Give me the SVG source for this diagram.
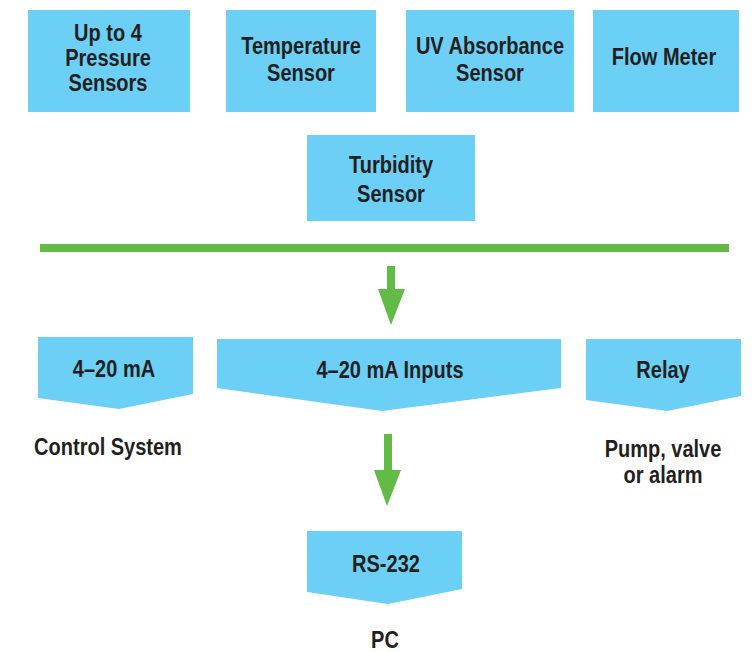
<svg xmlns="http://www.w3.org/2000/svg" width="752" height="652" viewBox="0 0 752 652">
<style>
.box{fill:#6ccff6}
.t{font-family:"Liberation Sans",Arial,sans-serif;font-weight:bold;font-size:23px;fill:#231f20;text-anchor:middle}
.g{fill:#62bb46}
</style>
<rect width="752" height="652" fill="#ffffff"/>
<g id="pressure"><rect class="box" x="28" y="10" width="162" height="102"/>
<text class="t" transform="translate(108 41) scale(0.87 1)">Up to 4</text><text class="t" transform="translate(108 66) scale(0.87 1)">Pressure</text><text class="t" transform="translate(108 91) scale(0.87 1)">Sensors</text></g>
<g id="temperature"><rect class="box" x="226" y="10" width="150" height="102"/>
<text class="t" transform="translate(301 54) scale(0.87 1)">Temperature</text><text class="t" transform="translate(301 81) scale(0.87 1)">Sensor</text></g>
<g id="uv"><rect class="box" x="406" y="10" width="168" height="102"/>
<text class="t" transform="translate(490 54) scale(0.87 1)">UV Absorbance</text><text class="t" transform="translate(490 81) scale(0.87 1)">Sensor</text></g>
<g id="flow"><rect class="box" x="593" y="10" width="146" height="102"/>
<text class="t" transform="translate(664 65) scale(0.87 1)">Flow Meter</text></g>
<g id="turbidity"><rect class="box" x="307" y="135" width="168" height="86"/>
<text class="t" transform="translate(391 173) scale(0.87 1)">Turbidity</text><text class="t" transform="translate(391 202) scale(0.87 1)">Sensor</text></g>
<g id="connectors">
<rect class="g" x="40" y="244" width="689" height="8"/>
<polygon class="g" points="387,266 395,266 395,289 405,289 391,325 378,289 387,289"/>
<polygon class="g" points="384,434 392,434 392,470 401,470 387,506 374,470 384,470"/>
</g>
<g id="ma-out"><polygon class="box" points="38,337 193,337 193,394 119,409 38,398"/>
<text class="t" transform="translate(114 377) scale(0.87 1)">4–20 mA</text></g>
<g id="ma-inputs"><polygon class="box" points="217,339 561,339 561,388 382,411 217,388"/>
<text class="t" transform="translate(390 378) scale(0.87 1)">4–20 mA Inputs</text></g>
<g id="relay"><polygon class="box" points="586,339 741,339 741,396 667,411 586,400"/>
<text class="t" transform="translate(663 378) scale(0.87 1)">Relay</text></g>
<g id="control-system"><text class="t" transform="translate(108 455) scale(0.87 1)">Control System</text></g>
<g id="pump"><text class="t" transform="translate(663 457) scale(0.87 1)">Pump, valve</text><text class="t" transform="translate(663 483) scale(0.87 1)">or alarm</text></g>
<g id="rs232"><polygon class="box" points="307,531 462,531 462,589 388,604 307,592"/>
<text class="t" transform="translate(386 572) scale(0.87 1)">RS-232</text></g>
<g id="pc"><text class="t" transform="translate(385 648) scale(0.87 1)">PC</text></g>
</svg>
